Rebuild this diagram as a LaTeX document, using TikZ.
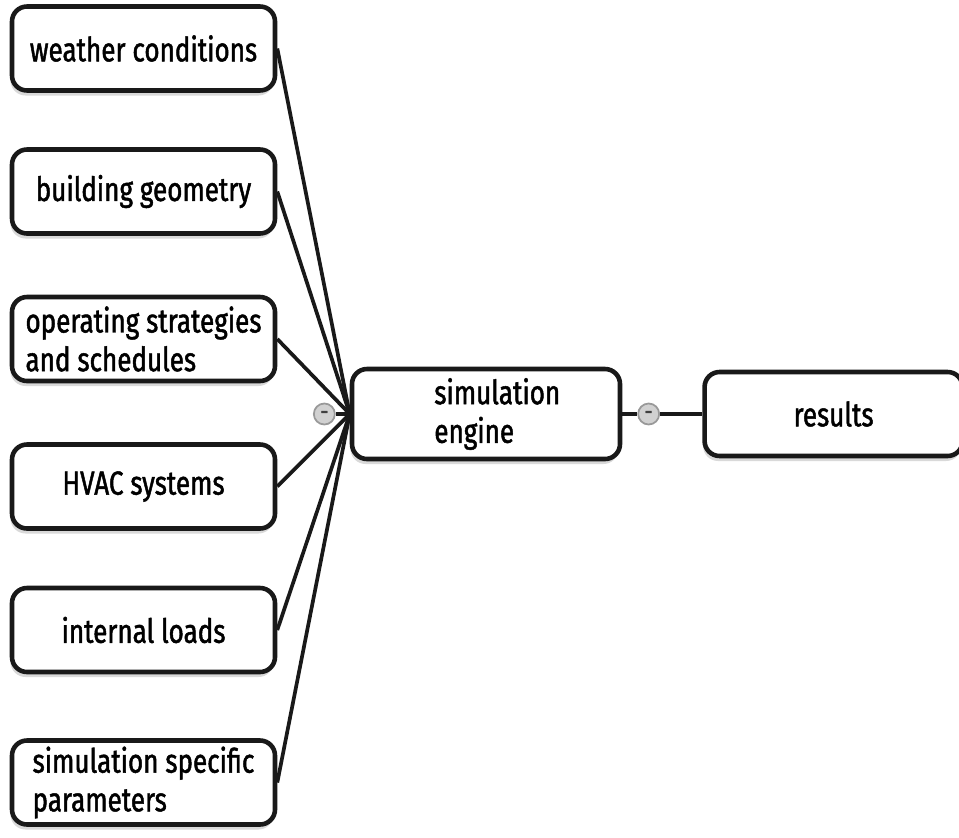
\documentclass[tikz,border=0pt]{standalone}
\usepackage{fontspec}
\setmainfont{Fira Sans}[FakeStretch=0.78,FakeBold=1.4]
\usetikzlibrary{positioning,shadows}
\colorlet{frame}{black!90}
\colorlet{knob}{black!18}

\begin{document}
\begin{tikzpicture}[
    box/.style={draw=frame,line width=2.6pt,rounded corners=0.3cm,fill=white,
      minimum width=5.26cm,minimum height=1.68cm,align=left,inner ysep=3pt,
      font=\fontsize{19}{22}\selectfont,
      drop shadow={shadow xshift=-0.03cm,shadow yshift=-0.1cm,opacity=0.3}},
    link/.style={line width=2.1pt,draw=frame},
    toggle/.style={circle,draw=black!40,fill=knob,line width=1pt,inner sep=0,
      minimum size=0.42cm,font=\bfseries\small,text=black!75},
  ]
  \useasboundingbox (0,0) rectangle (19.18,-16.74);
  %
  \node (weather) [box] at (2.87,-0.97) {weather conditions};
  \node (geometry) [box] at (2.87,-3.83) {building geometry};
  \node (strategies) [box] at (2.87,-6.78) {operating strategies\\and schedules};
  \node (hvac) [box] at (2.87,-9.73) {HVAC systems};
  \node (loads) [box] at (2.87,-12.6) {internal loads};
  \node (params) [box] at (2.87,-15.65) {simulation specific\\parameters};
  %
  \node (engine) [box,minimum width=5.36cm,minimum height=1.8cm,
    inner xsep=0.45cm] at (9.72,-8.28) {\hspace*{0.45cm}simulation\\\hspace*{0.45cm}engine};
  \node (results) [right=1.6cm of engine,box,minimum width=5.16cm] {results};
  %
  \draw [link] (weather.east) -- (engine.west);
  \draw [link] (geometry.east) -- (engine.west);
  \draw [link] (strategies.east) -- (engine.west);
  \draw [link] (hvac.east) -- (engine.west);
  \draw [link] (loads.east) -- (engine.west);
  \draw [link] (params.east) -- (engine.west);
  %
  \node (inknob) [left=0.28cm of engine,toggle] {--};
  \draw [link] (inknob) -- (engine.west);
  \node (outknob) [right=0.3cm of engine,toggle] {--};
  \draw [link] (engine.east) -- (outknob);
  \draw [link] (outknob) -- (results.west);
  %
\end{tikzpicture}
\end{document}
